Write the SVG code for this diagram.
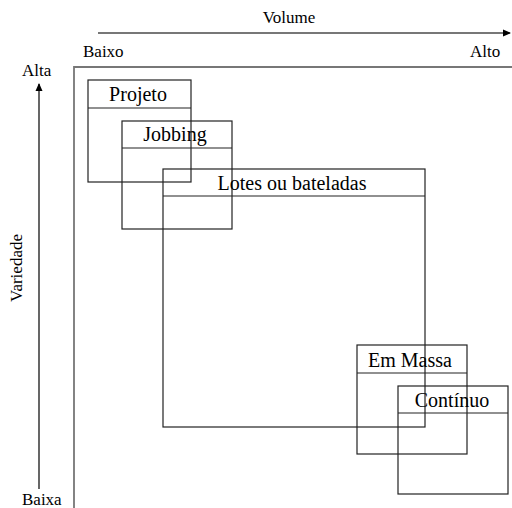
<svg xmlns="http://www.w3.org/2000/svg" width="512" height="508" viewBox="0 0 512 508" font-family="'Liberation Serif', 'DejaVu Serif', serif">
<style>
text{font-family:'Liberation Serif','DejaVu Serif',serif;font-size:17px;fill:#000}
.lbl{text-anchor:middle}
.bl{font-size:20px}
.box rect,.box line{fill:none;stroke:#222;stroke-width:1.2}
.ax{stroke:#777;stroke-width:1.8;fill:none}
.ar{stroke:#000;stroke-width:1.2;fill:none}
</style>
<defs>
<marker id="ah" markerWidth="8" markerHeight="8" refX="7" refY="4" orient="auto" markerUnits="userSpaceOnUse">
<path d="M0,0.5 L8,4 L0,7.5 Z" fill="#000"/>
</marker>
</defs>
<g id="axes">
<line class="ax" x1="98" y1="33" x2="510" y2="33" marker-end="url(#ah)"/>
<text class="lbl" x="289" y="23">Volume</text>
<text x="83" y="57">Baixo</text>
<text x="470" y="57">Alto</text>
<polyline class="ax" points="512,67 74,67 74,508"/>
<line class="ar" x1="39" y1="489" x2="39" y2="84" marker-end="url(#ah)"/>
<text x="22" y="76">Alta</text>
<text x="22" y="505">Baixa</text>
<text class="lbl" transform="translate(22,268) rotate(-90)">Variedade</text>
</g>
<g id="projeto" class="box">
<rect x="88" y="80" width="103" height="102"/>
<line x1="88" y1="108" x2="191" y2="108"/>
<text class="lbl bl" x="138" y="101">Projeto</text>
</g>
<g id="jobbing" class="box">
<rect x="122" y="121" width="110" height="108"/>
<line x1="122" y1="148" x2="232" y2="148"/>
<text class="lbl bl" x="175" y="141">Jobbing</text>
</g>
<g id="lotes" class="box">
<rect x="163" y="169" width="262" height="258"/>
<line x1="163" y1="196" x2="425" y2="196"/>
<text class="lbl bl" x="292" y="190">Lotes ou bateladas</text>
</g>
<g id="massa" class="box">
<rect x="357" y="345" width="110" height="109"/>
<line x1="357" y1="373" x2="467" y2="373"/>
<text class="lbl bl" x="410" y="367">Em Massa</text>
</g>
<g id="continuo" class="box">
<rect x="398" y="386" width="110" height="108"/>
<line x1="398" y1="413" x2="508" y2="413"/>
<text class="lbl bl" x="452" y="407">Contínuo</text>
</g>
<g id="connectors"></g>
</svg>
